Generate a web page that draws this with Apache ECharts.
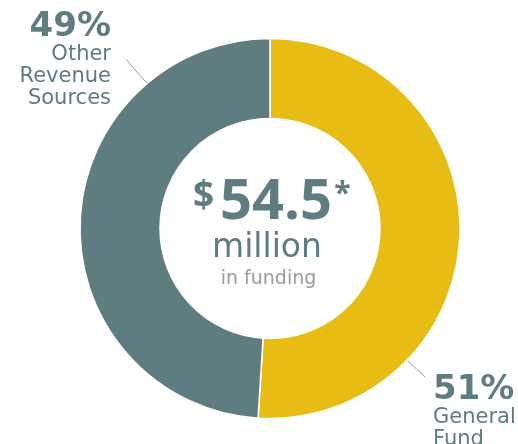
<!DOCTYPE html>
<html>
<head>
<meta charset="utf-8">
<style>
  html, body { margin: 0; padding: 0; background: #fff; }
  #chart { width: 518px; height: 444px; }
</style>
<script src="https://cdn.jsdelivr.net/npm/echarts@6/dist/echarts.min.js"></script>
</head>
<body>
<div id="chart"></div>
<script>
// data
const sources = ['General Fund', 'Other Revenue Sources'];
const shares = [51, 49];
const sliceColors = ['#e6bc15', '#5f7c81'];
const totalText = '54.5';

const teal = '#5f7c81';

// rich label styles, one set per side so that lines align the right way
function richFor(align) {
  return {
    pct: { fontFamily: 'DejaVu Sans', fontWeight: 'bold', fontSize: 34, lineHeight: 33, color: teal, align: align },
    nm: { fontFamily: 'DejaVu Sans', fontSize: 21, lineHeight: 21.7, color: teal, align: align }
  };
}

// where each outside label sits and how its leader line runs
const labelSpots = [
  { x: 433, y: 373.5, align: 'left', line: [[407, 360], [416, 368.5], [425, 377]] },
  { x: 111, y: 11, align: 'right', line: [[147, 83], [136, 71], [126, 59]] }
];

const chart = echarts.init(document.getElementById('chart'));

const option = {
  animation: false,
  backgroundColor: '#fff',
  graphic: [
    { type: 'text', silent: true, style: { text: '$', x: 203.5, y: 197, align: 'center', verticalAlign: 'middle',
        font: 'bold 37px "Open Sans"', fill: teal } },
    { type: 'text', silent: true, style: { text: totalText, x: 276, y: 203.5, align: 'center', verticalAlign: 'middle',
        font: 'bold 56px "Open Sans"', fill: teal } },
    { type: 'text', silent: true, style: { text: '*', x: 342.5, y: 194, align: 'center', verticalAlign: 'middle',
        font: 'bold 30px "Open Sans"', fill: teal } },
    { type: 'text', silent: true, style: { text: 'million', x: 267, y: 248, align: 'center', verticalAlign: 'middle',
        font: '33px "DejaVu Sans"', fill: teal } },
    { type: 'text', silent: true, style: { text: 'in funding', x: 268.5, y: 279.5, align: 'center', verticalAlign: 'middle',
        font: '19px "DejaVu Sans"', fill: '#9b9b9b' } }
  ],
  series: [{
    type: 'pie',
    radius: [110, 190],
    center: [270, 228.5],
    startAngle: 90,
    clockwise: true,
    silent: true,
    emphasis: { disabled: true },
    itemStyle: { borderColor: '#fff', borderWidth: 1.5 },
    label: {
      show: true,
      position: 'outside',
      alignTo: 'none',
      overflow: 'none',
      formatter: p => '{pct|' + Math.round(p.percent) + '%}\n' +
        p.name.split(' ').map(w => '{nm|' + w + '}').join('\n')
    },
    labelLine: { show: true, lineStyle: { color: '#8aa1a5', width: 1 } },
    labelLayout: params => {
      const s = labelSpots[params.dataIndex];
      return { x: s.x, y: s.y, align: s.align, verticalAlign: 'top', labelLinePoints: s.line };
    },
    data: sources.map((name, i) => ({
      name: name,
      value: shares[i],
      itemStyle: { color: sliceColors[i] },
      label: { align: labelSpots[i].align, overflow: 'none', rich: richFor(labelSpots[i].align) }
    }))
  }]
};

chart.setOption(option);
</script>
</body>
</html>
